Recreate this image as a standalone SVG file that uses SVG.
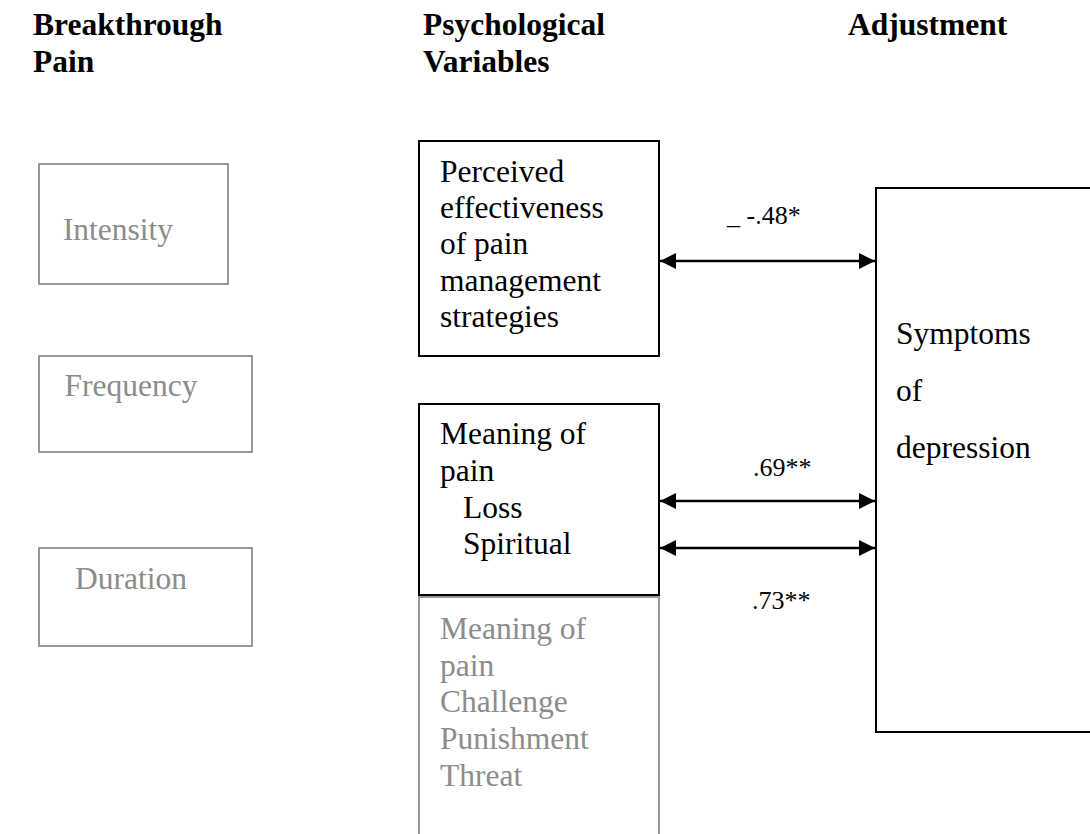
<svg xmlns="http://www.w3.org/2000/svg" width="1090" height="834" viewBox="0 0 1090 834">
<defs>
<style>
text{font-family:"Liberation Serif","Times New Roman",serif;}
.hd{font-size:31.5px;font-weight:bold;fill:#000;}
.bt{font-size:31.5px;fill:#000;}
.gt{font-size:31.5px;fill:#8c8c8c;}
.lb{font-size:26px;fill:#000;}
.bx{fill:#fff;stroke:#000;stroke-width:2;}
.gx{fill:#fff;stroke:#999;stroke-width:2;}
.cn{stroke:#000;stroke-width:2.5;fill:none;marker-start:url(#ah);marker-end:url(#ah);}
</style>
<marker id="ah" viewBox="0 0 10 10" refX="10" refY="5" markerWidth="16" markerHeight="16" markerUnits="userSpaceOnUse" orient="auto-start-reverse">
<path d="M0,0 L10,5 L0,10 z" fill="#000"/>
</marker>
</defs>
<rect width="1090" height="834" fill="#fff"/>
<g id="headers">
<text class="hd" x="33" y="35">Breakthrough</text>
<text class="hd" x="33" y="72">Pain</text>
<text class="hd" x="423" y="35">Psychological</text>
<text class="hd" x="423" y="72">Variables</text>
<text class="hd" x="848" y="35">Adjustment</text>
</g>
<g id="intensity">
<rect class="gx" x="39" y="164" width="189" height="120"/>
<text class="gt" x="118" y="240" text-anchor="middle">Intensity</text>
</g>
<g id="frequency">
<rect class="gx" x="39" y="356" width="213" height="96"/>
<text class="gt" x="131" y="396" text-anchor="middle">Frequency</text>
</g>
<g id="duration">
<rect class="gx" x="39" y="548" width="213" height="98"/>
<text class="gt" x="131" y="589" text-anchor="middle">Duration</text>
</g>
<g id="perceived">
<rect class="bx" x="419" y="141" width="240" height="215"/>
<text class="bt" x="440" y="182">Perceived</text>
<text class="bt" x="440" y="218">effectiveness</text>
<text class="bt" x="440" y="254">of pain</text>
<text class="bt" x="440" y="291">management</text>
<text class="bt" x="440" y="327">strategies</text>
</g>
<g id="meaning-other">
<rect class="gx" x="419" y="597" width="240" height="260"/>
<text class="gt" x="440" y="639">Meaning of</text>
<text class="gt" x="440" y="676">pain</text>
<text class="gt" x="440" y="712">Challenge</text>
<text class="gt" x="440" y="749">Punishment</text>
<text class="gt" x="440" y="786">Threat</text>
</g>
<g id="meaning-loss">
<rect class="bx" x="419" y="404" width="240" height="191"/>
<text class="bt" x="440" y="444">Meaning of</text>
<text class="bt" x="440" y="481">pain</text>
<text class="bt" x="463" y="518">Loss</text>
<text class="bt" x="463" y="554">Spiritual</text>
</g>
<g id="symptoms">
<rect class="bx" x="876" y="188" width="240" height="544"/>
<text class="bt" x="896" y="344">Symptoms</text>
<text class="bt" x="896" y="401">of</text>
<text class="bt" x="896" y="458">depression</text>
</g>
<g id="connectors">
<line class="cn" x1="660" y1="261" x2="875" y2="261"/>
<line class="cn" x1="660" y1="501" x2="875" y2="501"/>
<line class="cn" x1="660" y1="548" x2="875" y2="548"/>
<text class="lb" x="727" y="224">_ -.48*</text>
<text class="lb" x="753" y="476">.69**</text>
<text class="lb" x="752" y="609">.73**</text>
</g>
</svg>
